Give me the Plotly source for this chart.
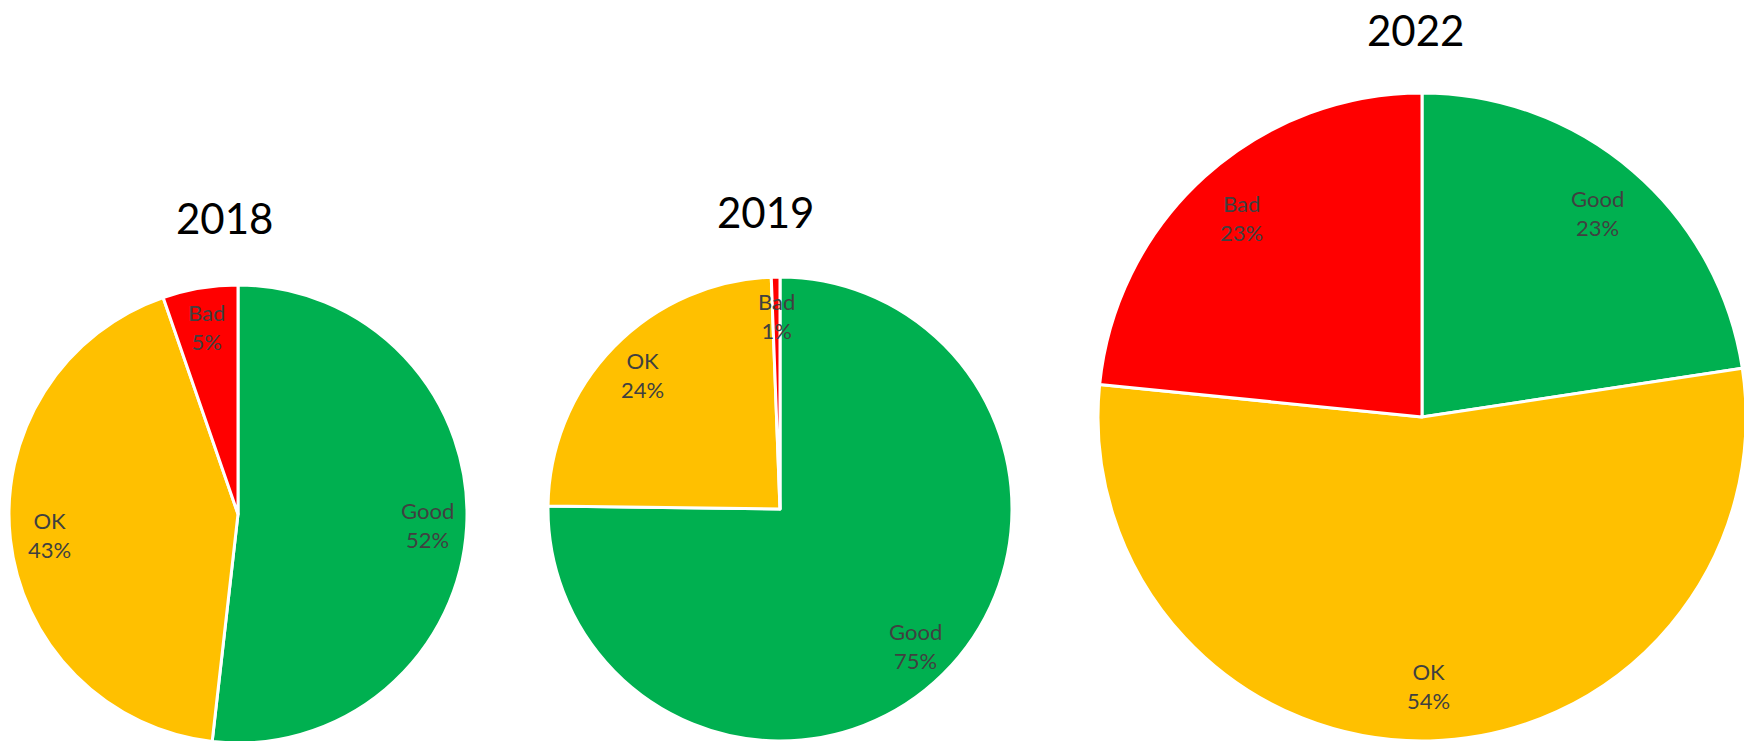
import numpy as np
import plotly.graph_objects as go

W, H = 1752, 741
PAGE_OFFSET = 8  # default body margin of the html page

categories = ["Good", "OK", "Bad"]
colors = ["#00B050", "#FFC000", "#FF0000"]

years = ["2018", "2019", "2022"]
values_2018 = [51.8, 42.9, 5.3]
values_2019 = [75.2, 24.2, 0.6]
values_2022 = [22.6, 54.0, 23.4]
all_values = [values_2018, values_2019, values_2022]

# pie boxes in page pixels: left, top, size (square)
boxes = [(9, 285, 458), (548, 277, 464), (1098, 93, 648)]
# title centres in page pixels
title_pos = [(224, 218), (765, 212), (1415, 30)]

fig = go.Figure()
annotations = []


def to_paper(px, py):
    return (px - PAGE_OFFSET) / W, 1 - (py - PAGE_OFFSET) / H


for year, vals, (left, top, size), (tx, ty) in zip(years, all_values, boxes, title_pos):
    x0, y1 = to_paper(left, top)
    x1, y0 = to_paper(left + size, top + size)
    fig.add_trace(go.Pie(
        labels=categories, values=vals, sort=False, direction="clockwise",
        rotation=0, marker=dict(colors=colors, line=dict(color="white", width=3)),
        textinfo="none", hoverinfo="label+percent",
        domain=dict(x=[max(x0, 0), min(x1, 1)], y=[max(y0, 0), min(y1, 1)]),
        showlegend=False,
    ))
    # data labels, placed along each slice's middle angle
    cx, cy, r = left + size / 2, top + size / 2, size / 2
    total = sum(vals)
    start = 0.0
    for cat, v in zip(categories, vals):
        mid = (start + v / 2) / total * 2 * np.pi
        start += v
        ax, ay = to_paper(cx + 0.83 * r * np.sin(mid), cy - 0.83 * r * np.cos(mid))
        annotations.append(dict(
            x=ax, y=ay, xref="paper", yref="paper",
            text=f"{cat}<br>{round(v / total * 100)}%", showarrow=False,
            font=dict(family="Lato, Open Sans, sans-serif", size=22, color="#404040"),
            xanchor="center", yanchor="middle",
        ))
    ax, ay = to_paper(tx, ty)
    annotations.append(dict(
        x=ax, y=ay, xref="paper", yref="paper", text=year,
        showarrow=False, xanchor="center", yanchor="middle",
        font=dict(family="Lato, Open Sans, sans-serif", size=42, color="#000000"),
    ))

fig.update_layout(
    width=W, height=H, margin=dict(l=0, r=0, t=0, b=0),
    paper_bgcolor="white", plot_bgcolor="white",
    annotations=annotations,
)

fig.write_html("out.html")
